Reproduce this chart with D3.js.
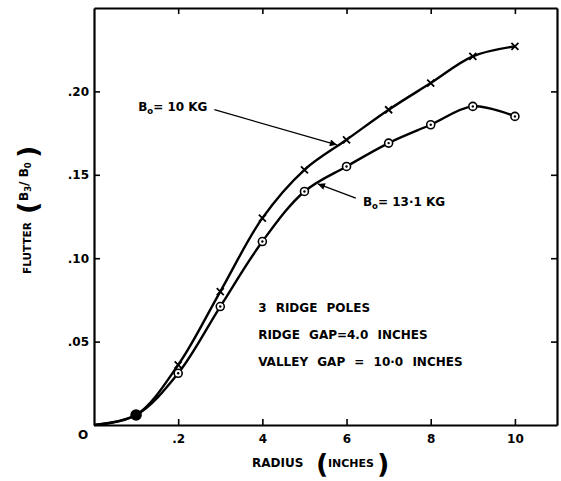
<!DOCTYPE html>
<html><head><meta charset="utf-8">
<script src="https://cdn.jsdelivr.net/npm/d3@7"></script>
<style>
body{margin:0;background:#fff}
svg{display:block}
text{font-family:"DejaVu Sans",sans-serif;font-weight:bold;fill:#000}
</style>
</head><body>
<svg id="chart" width="561" height="481"></svg>
<script>
// ---- data ----
const radius = [0, 1, 2, 3, 4, 5, 6, 7, 8, 9, 10];
const flutter10KG = [0, 0.006, 0.036, 0.080, 0.124, 0.153, 0.171, 0.189, 0.205, 0.221, 0.227];
const flutter13KG = [0, 0.006, 0.031, 0.071, 0.110, 0.140, 0.155, 0.169, 0.180, 0.191, 0.185];
const xTickValues = [2, 4, 6, 8, 10];
const xTickLabels = [".2", "4", "6", "8", "10"];
const yTickValues = [0.05, 0.10, 0.15, 0.20];
const yTickLabels = [".05", ".10", ".15", ".20"];
const noteLines = ["3 RIDGE POLES", "RIDGE GAP=4.0 INCHES", "VALLEY GAP = 10·0 INCHES"];

// ---- layout ----
const svg = d3.select("#chart");
const x = d3.scaleLinear().domain([0, 11]).range([94, 557]);
const y = d3.scaleLinear().domain([0, 0.25]).range([425, 8]);

svg.append("defs").append("marker")
  .attr("id", "arrow").attr("viewBox", "0 0 10 10")
  .attr("refX", 10).attr("refY", 5)
  .attr("markerWidth", 12).attr("markerHeight", 7)
  .attr("markerUnits", "userSpaceOnUse")
  .attr("orient", "auto")
  .append("path").attr("d", "M0,0 L10,5 L0,10 Z").attr("fill", "#000");

function styleAxis(g) {
  g.select(".domain").attr("stroke", "#000").attr("stroke-width", 2.2);
  g.selectAll(".tick line").attr("stroke", "#000").attr("stroke-width", 1.6);
  g.selectAll(".tick text").attr("font-size", 12).attr("font-family", "DejaVu Sans").attr("font-weight", "bold");
}
svg.append("g").attr("transform", `translate(0,${y(0)})`)
  .call(d3.axisBottom(x).tickValues(xTickValues).tickFormat((d, i) => xTickLabels[i])
    .tickSizeInner(-6).tickSizeOuter(0).tickPadding(9))
  .call(styleAxis);
svg.append("g").attr("transform", `translate(0,${y(0.25)})`)
  .call(d3.axisTop(x).tickValues(xTickValues).tickFormat("")
    .tickSizeInner(-6).tickSizeOuter(0))
  .call(styleAxis);
svg.append("g").attr("transform", `translate(${x(0)},0)`)
  .call(d3.axisLeft(y).tickValues(yTickValues).tickFormat((d, i) => yTickLabels[i])
    .tickSizeInner(-6).tickSizeOuter(0).tickPadding(5))
  .call(styleAxis);
svg.append("g").attr("transform", `translate(${x(11)},0)`)
  .call(d3.axisRight(y).tickValues(yTickValues).tickFormat("")
    .tickSizeInner(-6).tickSizeOuter(0))
  .call(styleAxis);

svg.append("text").attr("x", x(0) - 11).attr("y", y(0) + 14)
  .attr("text-anchor", "middle").attr("font-size", 12).text("O");

// curves
const line = d3.line().x(d => x(d[0])).y(d => y(d[1])).curve(d3.curveCatmullRom.alpha(0.5));
const s10 = radius.map((r, i) => [r, flutter10KG[i]]);
const s13 = radius.map((r, i) => [r, flutter13KG[i]]);
[s10, s13].forEach(s => {
  svg.append("path").datum(s).attr("d", line)
    .attr("fill", "none").attr("stroke", "#000").attr("stroke-width", 2.4);
});

const cs = 3.5;
svg.append("g").selectAll("path").data(s10.slice(1)).join("path")
  .attr("d", d => `M${x(d[0]) - cs},${y(d[1]) - cs}L${x(d[0]) + cs},${y(d[1]) + cs}M${x(d[0]) - cs},${y(d[1]) + cs}L${x(d[0]) + cs},${y(d[1]) - cs}`)
  .attr("stroke", "#000").attr("stroke-width", 1.8);
const cg = svg.append("g").selectAll("g").data(s13.slice(1)).join("g")
  .attr("transform", d => `translate(${x(d[0])},${y(d[1])})`);
cg.append("circle").attr("r", (d, i) => i === 0 ? 5 : 4)
  .attr("fill", (d, i) => i === 0 ? "#000" : "#fff").attr("stroke", "#000").attr("stroke-width", 1.6);
cg.append("circle").attr("r", 1.2).attr("fill", "#000");

function bLabel(xv, yv, rest) {
  const t = svg.append("text").attr("x", x(xv)).attr("y", y(yv)).attr("font-size", 12);
  t.append("tspan").text("B");
  t.append("tspan").attr("font-size", 8.5).attr("dy", 3).text("o");
  t.append("tspan").attr("dy", -3).text(rest);
}
bLabel(1.05, 0.188, "= 10 KG");
bLabel(6.39, 0.131, "= 13·1 KG");
svg.append("line").attr("x1", x(2.86)).attr("y1", y(0.189)).attr("x2", x(5.77)).attr("y2", y(0.168))
  .attr("stroke", "#000").attr("stroke-width", 1.3).attr("marker-end", "url(#arrow)");
svg.append("line").attr("x1", x(6.22)).attr("y1", y(0.136)).attr("x2", x(5.32)).attr("y2", y(0.1445))
  .attr("stroke", "#000").attr("stroke-width", 1.3).attr("marker-end", "url(#arrow)");

const noteY = [0.0677, 0.0516, 0.0354];
noteLines.forEach((s, i) => {
  svg.append("text").attr("x", x(3.9)).attr("y", y(noteY[i]))
    .attr("font-size", 12).attr("word-spacing", 5).text(s);
});

// x axis title
svg.append("text").attr("x", 252).attr("y", 467).attr("font-size", 12).text("RADIUS");
svg.append("text").attr("x", 316).attr("y", 473).attr("font-size", 27).attr("font-weight", "normal").text("(");
svg.append("text").attr("x", 328).attr("y", 467).attr("font-size", 11).text("INCHES");
svg.append("text").attr("x", 377).attr("y", 473).attr("font-size", 27).attr("font-weight", "normal").text(")");

// y axis title (rotated)
const yl = svg.append("g").attr("transform", "translate(27,0) rotate(-90)");
yl.append("text").attr("x", -274).attr("y", 4).attr("font-size", 10.5).text("FLUTTER");
yl.append("text").attr("x", -214).attr("y", 10).attr("font-size", 27).attr("font-weight", "normal").text("(");
const bt = yl.append("text").attr("x", -201).attr("y", 1).attr("font-size", 12);
bt.append("tspan").text("B");
bt.append("tspan").attr("font-size", 8.5).attr("dy", 3).text("3");
bt.append("tspan").attr("dy", -3).text("/ B");
bt.append("tspan").attr("font-size", 8.5).attr("dy", 3).text("0");
yl.append("text").attr("x", -158).attr("y", 10).attr("font-size", 27).attr("font-weight", "normal").text(")");
</script>
</body></html>
